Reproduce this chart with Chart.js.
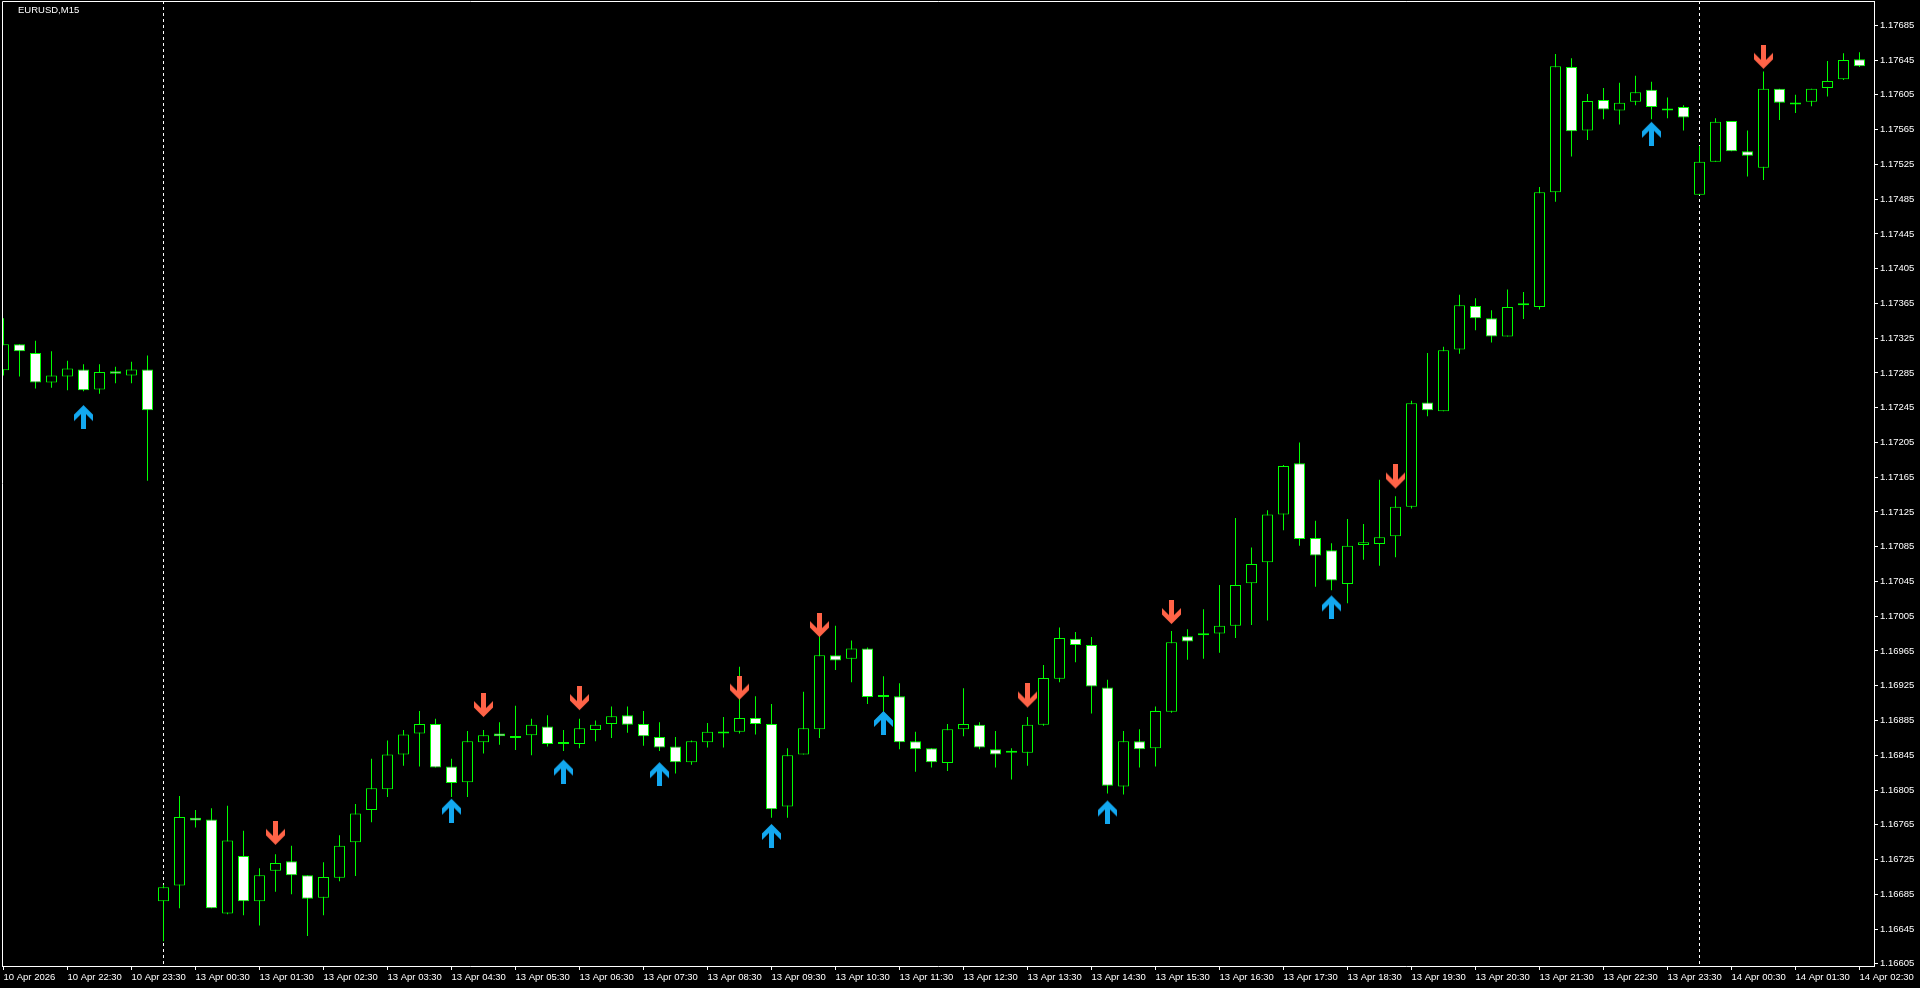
<!DOCTYPE html>
<html>
<head>
<meta charset="utf-8">
<title>EURUSD,M15</title>
<script src="https://cdn.jsdelivr.net/npm/chart.js@4.4.1/dist/chart.umd.min.js"></script>
<style>
  html, body { margin: 0; padding: 0; background: #000; overflow: hidden; }
  canvas { display: block; }
</style>
</head>
<body>
<canvas id="chart" width="1920" height="988"></canvas>
<script>
const symbol = "EURUSD,M15";

// M15 candles, index 0 = 10 Apr 21:30 ... 116 = 14 Apr 02:30
const opens = [
  1.17288, 1.17318, 1.17308, 1.17274, 1.17281, 1.17289, 1.17266, 1.17287, 1.17282, 1.17289,
  1.16677, 1.16695, 1.16773, 1.16771, 1.16663, 1.16729, 1.16677, 1.16712, 1.16723, 1.16707,
  1.16681, 1.16704, 1.16745, 1.16782, 1.16806, 1.16846, 1.16870, 1.16881, 1.16832, 1.16814,
  1.16860, 1.16870, 1.16865, 1.16868, 1.16878, 1.16858, 1.16858, 1.16874, 1.16881, 1.16891,
  1.16881, 1.16866, 1.16855, 1.16837, 1.16860, 1.16870, 1.16872, 1.16888, 1.16881, 1.16786,
  1.16846, 1.16875, 1.16960, 1.16956, 1.16968, 1.16912, 1.16913, 1.16861, 1.16853, 1.16836,
  1.16875, 1.16880, 1.16852, 1.16848, 1.16848, 1.16880, 1.16933, 1.16979, 1.16972, 1.16923,
  1.16809, 1.16861, 1.16853, 1.16895, 1.16982, 1.16983, 1.16985, 1.16994, 1.17043, 1.17067,
  1.17122, 1.17181, 1.17095, 1.17081, 1.17042, 1.17087, 1.17088, 1.17097, 1.17131, 1.17251,
  1.17241, 1.17312, 1.17362, 1.17348, 1.17327, 1.17363, 1.17361, 1.17493, 1.17637, 1.17564,
  1.17599, 1.17587, 1.17597, 1.17611, 1.17587, 1.17591, 1.17490, 1.17528, 1.17575, 1.17540,
  1.17521, 1.17612, 1.17594, 1.17597, 1.17613, 1.17623, 1.17646
];
const highs = [
  1.17348, 1.17318, 1.17322, 1.17310, 1.17299, 1.17295, 1.17295, 1.17292, 1.17298, 1.17305,
  1.16696, 1.16798, 1.16782, 1.16784, 1.16787, 1.16758, 1.16715, 1.16731, 1.16741, 1.16707,
  1.16722, 1.16753, 1.16789, 1.16841, 1.16862, 1.16874, 1.16896, 1.16887, 1.16841, 1.16873,
  1.16874, 1.16883, 1.16902, 1.16887, 1.16891, 1.16874, 1.16887, 1.16885, 1.16901, 1.16901,
  1.16896, 1.16883, 1.16866, 1.16862, 1.16882, 1.16889, 1.16947, 1.16913, 1.16904, 1.16853,
  1.16918, 1.16994, 1.16994, 1.16977, 1.16969, 1.16936, 1.16928, 1.16872, 1.16853, 1.16881,
  1.16922, 1.16883, 1.16873, 1.16853, 1.16889, 1.16949, 1.16992, 1.16987, 1.16981, 1.16932,
  1.16873, 1.16875, 1.16901, 1.16988, 1.16990, 1.17013, 1.17041, 1.17118, 1.17084, 1.17127,
  1.17179, 1.17205, 1.17115, 1.17089, 1.17117, 1.17111, 1.17162, 1.17143, 1.17253, 1.17308,
  1.17315, 1.17375, 1.17371, 1.17357, 1.17381, 1.17378, 1.17499, 1.17652, 1.17647, 1.17606,
  1.17613, 1.17619, 1.17627, 1.17620, 1.17602, 1.17593, 1.17546, 1.17578, 1.17575, 1.17564,
  1.17632, 1.17612, 1.17605, 1.17612, 1.17644, 1.17653, 1.17654
];
const lows = [
  1.17282, 1.17281, 1.17267, 1.17268, 1.17265, 1.17264, 1.17261, 1.17273, 1.17273, 1.17161,
  1.16631, 1.16669, 1.16762, 1.16669, 1.16662, 1.16661, 1.16649, 1.16688, 1.16685, 1.16637,
  1.16661, 1.16700, 1.16706, 1.16768, 1.16797, 1.16833, 1.16832, 1.16831, 1.16797, 1.16797,
  1.16847, 1.16857, 1.16851, 1.16845, 1.16855, 1.16850, 1.16853, 1.16861, 1.16865, 1.16871,
  1.16856, 1.16850, 1.16824, 1.16834, 1.16854, 1.16854, 1.16870, 1.16869, 1.16773, 1.16773,
  1.16846, 1.16865, 1.16943, 1.16929, 1.16904, 1.16895, 1.16852, 1.16826, 1.16831, 1.16827,
  1.16867, 1.16852, 1.16831, 1.16817, 1.16833, 1.16879, 1.16929, 1.16952, 1.16893, 1.16801,
  1.16800, 1.16831, 1.16832, 1.16894, 1.16955, 1.16956, 1.16963, 1.16980, 1.16995, 1.17000,
  1.17104, 1.17086, 1.17039, 1.17035, 1.17020, 1.17070, 1.17063, 1.17073, 1.17129, 1.17235,
  1.17241, 1.17307, 1.17334, 1.17320, 1.17327, 1.17347, 1.17358, 1.17482, 1.17534, 1.17553,
  1.17577, 1.17571, 1.17593, 1.17577, 1.17578, 1.17564, 1.17490, 1.17528, 1.17540, 1.17511,
  1.17507, 1.17576, 1.17584, 1.17592, 1.17603, 1.17622, 1.17637
];
const closes = [
  1.17318, 1.17310, 1.17274, 1.17282, 1.17290, 1.17265, 1.17286, 1.17284, 1.17289, 1.17242,
  1.16693, 1.16774, 1.16770, 1.16669, 1.16747, 1.16677, 1.16707, 1.16721, 1.16707, 1.16680,
  1.16705, 1.16741, 1.16778, 1.16807, 1.16846, 1.16869, 1.16881, 1.16831, 1.16813, 1.16861,
  1.16868, 1.16867, 1.16865, 1.16880, 1.16858, 1.16858, 1.16876, 1.16880, 1.16890, 1.16880,
  1.16867, 1.16854, 1.16837, 1.16861, 1.16872, 1.16870, 1.16888, 1.16881, 1.16783, 1.16845,
  1.16876, 1.16960, 1.16954, 1.16968, 1.16912, 1.16914, 1.16860, 1.16852, 1.16837, 1.16875,
  1.16881, 1.16854, 1.16846, 1.16848, 1.16880, 1.16934, 1.16980, 1.16972, 1.16924, 1.16810,
  1.16861, 1.16852, 1.16896, 1.16975, 1.16976, 1.16983, 1.16994, 1.17041, 1.17065, 1.17122,
  1.17178, 1.17094, 1.17075, 1.17046, 1.17086, 1.17090, 1.17096, 1.17131, 1.17250, 1.17242,
  1.17311, 1.17363, 1.17348, 1.17327, 1.17361, 1.17363, 1.17493, 1.17638, 1.17563, 1.17598,
  1.17588, 1.17596, 1.17608, 1.17591, 1.17587, 1.17579, 1.17528, 1.17574, 1.17540, 1.17535,
  1.17612, 1.17596, 1.17594, 1.17612, 1.17621, 1.17645, 1.17638
];

// signal arrows: candle index and price at the arrow tip
const upIdx = [5, 28, 35, 41, 48, 55, 69, 83, 103];
const upTip = [1.17248, 1.16795, 1.16840, 1.16837, 1.16766, 1.16896, 1.16793, 1.17029, 1.17574];
const downIdx = [17, 30, 36, 46, 51, 64, 73, 87, 110];
const downTip = [1.16742, 1.16889, 1.16897, 1.16909, 1.16981, 1.16900, 1.16996, 1.17152, 1.17635];

// day separators (13 Apr 00:00, 14 Apr 00:00)
const separators = [10, 106];

const xTickIdx = [0, 4, 8, 12, 16, 20, 24, 28, 32, 36, 40, 44, 48, 52, 56, 60, 64, 68, 72, 76,
  80, 84, 88, 92, 96, 100, 104, 108, 112, 116];
const xTickLabels = [
  "10 Apr 2026", "10 Apr 22:30", "10 Apr 23:30", "13 Apr 00:30", "13 Apr 01:30", "13 Apr 02:30",
  "13 Apr 03:30", "13 Apr 04:30", "13 Apr 05:30", "13 Apr 06:30", "13 Apr 07:30", "13 Apr 08:30",
  "13 Apr 09:30", "13 Apr 10:30", "13 Apr 11:30", "13 Apr 12:30", "13 Apr 13:30", "13 Apr 14:30",
  "13 Apr 15:30", "13 Apr 16:30", "13 Apr 17:30", "13 Apr 18:30", "13 Apr 19:30", "13 Apr 20:30",
  "13 Apr 21:30", "13 Apr 22:30", "13 Apr 23:30", "14 Apr 00:30", "14 Apr 01:30", "14 Apr 02:30"
];
const yTicks = [];
for (let k = 0; k <= 27; k++) yTicks.push(+(1.16605 + k * 0.0004).toFixed(5));

const yMin = 1.166025, yMax = 1.17713;
const xMin = -0.09375, xMax = 116.90625;

const lime = '#00ff00';
const font = { family: '"Liberation Sans", Arial, sans-serif', size: 9.5 };

// arrow glyphs, tip sits at the canvas centre so the data value is the tip price
function makeArrow(color, up) {
  const c = document.createElement('canvas');
  c.width = 19; c.height = 48;
  const g = c.getContext('2d');
  const pts = [[9.5, 0], [19, 9.5], [19, 16], [12, 9], [12, 24], [7, 24], [7, 9], [0, 16], [0, 9.5]];
  g.fillStyle = color;
  g.beginPath();
  pts.forEach(([px, py], k) => {
    const yy = up ? 24 + py : 24 - py;
    if (k == 0) g.moveTo(px, yy); else g.lineTo(px, yy);
  });
  g.closePath();
  g.fill();
  return c;
}
const upImg = makeArrow('#13a8f0', true);
const downImg = makeArrow('#ff6347', false);

let wicks = [], bodies = [], fills = [];
opens.forEach((o, i) => {
  wicks.push({ x: i, y: [lows[i], highs[i]] });
  bodies.push({ x: i, y: [o, closes[i]] });
  fills.push(closes[i] < o ? '#ffffff' : '#000000');
});
const upPts = upIdx.map((i, k) => ({ x: i, y: upTip[k] }));
const downPts = downIdx.map((i, k) => ({ x: i, y: downTip[k] }));

const mt4Plugin = {
  id: 'mt4',
  beforeDatasetsDraw(chart) {
    const { ctx, chartArea: a, scales: { x } } = chart;
    ctx.save();
    ctx.strokeStyle = '#ffffff';
    ctx.lineWidth = 1;
    ctx.setLineDash([3, 3]);
    separators.forEach(i => {
      let px = x.getPixelForValue(i);
      ctx.beginPath();
      ctx.moveTo(px, a.top);
      ctx.lineTo(px, a.bottom);
      ctx.stroke();
    });
    ctx.restore();
  },
  afterDraw(chart) {
    const { ctx, chartArea: a } = chart;
    ctx.save();
    ctx.strokeStyle = '#ffffff';
    ctx.lineWidth = 1;
    ctx.beginPath();
    ctx.moveTo(a.left + 0.5, a.bottom);
    ctx.lineTo(a.left + 0.5, a.top + 0.5);
    ctx.lineTo(a.right, a.top + 0.5);
    ctx.stroke();
    ctx.fillStyle = '#ffffff';
    ctx.font = font.size + 'px ' + font.family;
    ctx.textBaseline = 'middle';
    ctx.fillText(symbol, a.left + 16, a.top + 9);
    ctx.restore();
  }
};

new Chart(document.getElementById('chart'), {
  type: 'bar',
  data: {
    datasets: [
      {
        label: 'wick', data: wicks, backgroundColor: lime,
        grouped: false, maxBarThickness: 1, inflateAmount: 0, order: 3
      },
      {
        label: 'body', data: bodies, backgroundColor: fills, borderColor: lime,
        borderWidth: 1, borderSkipped: false, grouped: false, maxBarThickness: 11,
        inflateAmount: 0, minBarLength: 2, order: 2
      },
      {
        type: 'line', label: 'buy', data: upPts, showLine: false,
        pointStyle: upImg, pointRadius: 1, order: 1, clip: false
      },
      {
        type: 'line', label: 'sell', data: downPts, showLine: false,
        pointStyle: downImg, pointRadius: 1, order: 1, clip: false
      }
    ]
  },
  options: {
    responsive: false,
    animation: false,
    devicePixelRatio: 1,
    events: [],
    layout: { autoPadding: false, padding: { left: 2, top: 1, right: 0, bottom: 0 } },
    plugins: { legend: { display: false }, tooltip: { enabled: false } },
    scales: {
      x: {
        type: 'linear', offset: false, bounds: 'data', min: xMin, max: xMax,
        afterBuildTicks: s => { s.ticks = xTickIdx.map(v => ({ value: v })); },
        afterFit: s => { s.height = 22; s.paddingLeft = 0; s.paddingRight = 0; },
        ticks: {
          autoSkip: false, maxRotation: 0, align: 'start', color: '#ffffff', font: font,
          padding: 2, callback: (v, k) => xTickLabels[k]
        },
        grid: { drawOnChartArea: false, color: '#ffffff', tickLength: 4, offset: false },
        border: { color: '#ffffff' }
      },
      y: {
        position: 'right', bounds: 'data', min: yMin, max: yMax,
        afterBuildTicks: s => { s.ticks = yTicks.map(v => ({ value: v })); },
        afterFit: s => { s.width = 46; s.paddingTop = 0; s.paddingBottom = 0; },
        ticks: { color: '#ffffff', font: font, padding: 2, callback: v => v.toFixed(5) },
        grid: { drawOnChartArea: false, color: '#ffffff', tickLength: 4 },
        border: { color: '#ffffff' }
      }
    }
  },
  plugins: [mt4Plugin]
});
</script>
</body>
</html>
